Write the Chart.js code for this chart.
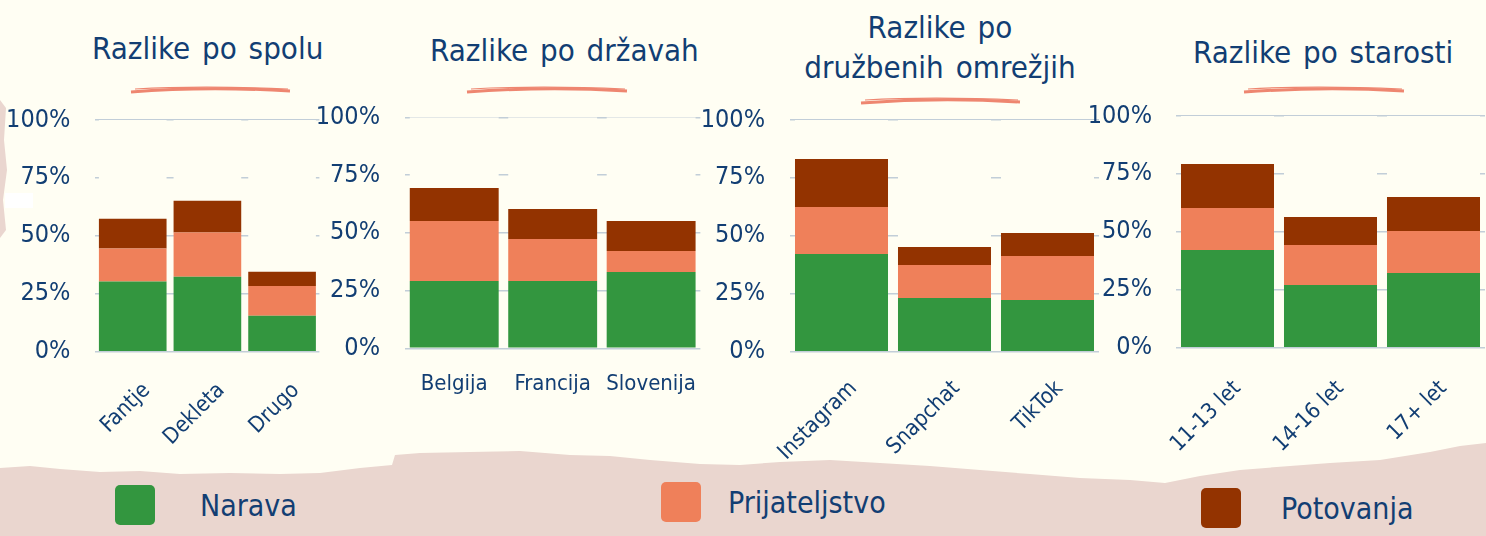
<!DOCTYPE html>
<html>
<head>
<meta charset="utf-8">
<script src="https://cdn.jsdelivr.net/npm/chart.js@4"></script>
<style>
  html, body { margin: 0; padding: 0; }
  body { width: 1486px; height: 536px; background: #FFFEF3; position: relative; overflow: hidden;
         font-family: "Liberation Sans Narrow", "DejaVu Sans Condensed", "Open Sans", sans-serif; color: #123E73; }
  .cv { position: absolute; top: 0; height: 470px; }
  .title { position: absolute; font-size: 31px; color: #123E73; word-spacing: 3px; white-space: nowrap; text-align: center; line-height: 40px; }
  .leg { position: absolute; display: flex; align-items: center; }
  .sw { width: 40px; height: 40px; border-radius: 5px; }
  .lt { font-size: 30px; color: #123E73; }
  svg { position: absolute; left: 0; top: 0; }
</style>
</head>
<body>
<svg width="1486" height="536" style="z-index:0">
  <path d="M0,468 L30,466 L60,469 L100,472 L140,471 L180,474 L230,473 L280,474 L320,473 L360,468 L392,465 L395,455 L420,453 L470,452 L520,451 L570,455 L610,456 L650,460 L700,464 L740,465 L780,462 L830,460 L880,463 L930,466 L980,470 L1030,474 L1080,478 L1130,480 L1165,483 L1200,476 L1240,470 L1290,466 L1330,463 L1380,460 L1430,452 L1460,446 L1486,443 L1486,536 L0,536 Z" fill="#EAD6CF"/>
  <path d="M0,100 L6,108 L4,140 L7,170 L3,200 L6,230 L0,238 Z" fill="#EAD6CF"/>
  <rect x="5" y="193" width="28" height="15" fill="#FFFFFF"/>
  <path d="M131,92 C180,88 240,88 290,91" stroke="#EE8670" stroke-width="3" fill="none"/>
  <path d="M135,89 C190,86 240,87 288,89" stroke="#EE8670" stroke-width="1.2" fill="none"/>
  <path d="M467,92 C520,88 580,88 627,91" stroke="#EE8670" stroke-width="3" fill="none"/>
  <path d="M471,89 C525,86 580,87 625,89" stroke="#EE8670" stroke-width="1.2" fill="none"/>
  <path d="M861,103 C915,99 970,99 1020,102" stroke="#EE8670" stroke-width="3" fill="none"/>
  <path d="M865,100 C920,97 970,98 1018,100" stroke="#EE8670" stroke-width="1.2" fill="none"/>
  <path d="M1244,92 C1300,88 1355,88 1404,91" stroke="#EE8670" stroke-width="3" fill="none"/>
  <path d="M1248,89 C1300,86 1355,87 1402,89" stroke="#EE8670" stroke-width="1.2" fill="none"/>
</svg>

<div class="title" style="left:92px; top:28px; width:226px;">Razlike po spolu</div>
<div class="title" style="left:430px; top:30px; width:265px;">Razlike po državah</div>
<div class="title" style="left:800px; top:7px; width:280px;">Razlike po<br>družbenih omrežjih</div>
<div class="title" style="left:1193px; top:32px; width:260px;">Razlike po starosti</div>

<canvas id="c1" class="cv" style="left:0px; width:330px;" width="330" height="470"></canvas>
<canvas id="c2" class="cv" style="left:300px; width:420px;" width="420" height="470"></canvas>
<canvas id="c3" class="cv" style="left:690px; width:420px;" width="420" height="470"></canvas>
<canvas id="c4" class="cv" style="left:1090px; width:396px;" width="396" height="470"></canvas>

<div class="leg" style="left:115px; top:485px;"><div class="sw" style="background:#33963F"></div><div class="lt" style="margin-left:45px">Narava</div></div>
<div class="leg" style="left:661px; top:482px;"><div class="sw" style="background:#EF805A"></div><div class="lt" style="margin-left:27px">Prijateljstvo</div></div>
<div class="leg" style="left:1201px; top:488px;"><div class="sw" style="background:#933300"></div><div class="lt" style="margin-left:40px">Potovanja</div></div>

<script>
// ---- data ----
const seriesNames = ['Narava', 'Prijateljstvo', 'Potovanja'];
const yTickLabels = ['0%', '25%', '50%', '75%', '100%'];

const genderCats = ['Fantje', 'Dekleta', 'Drugo'];
const genderNarava = [30.3, 32.3, 15.5];
const genderPrijateljstvo = [14.2, 19.1, 12.9];
const genderPotovanja = [12.9, 13.8, 6.1];

const countryCats = ['Belgija', 'Francija', 'Slovenija'];
const countryNarava = [29.1, 29.1, 33.0];
const countryPrijateljstvo = [26.0, 18.2, 9.1];
const countryPotovanja = [14.3, 13.0, 13.0];

const socialCats = ['Instagram', 'Snapchat', 'TikTok'];
const socialNarava = [42.2, 23.2, 22.3];
const socialPrijateljstvo = [20.3, 14.2, 19.0];
const socialPotovanja = [20.7, 7.8, 9.9];

const ageCats = ['11-13 let', '14-16 let', '17+ let'];
const ageNarava = [42.2, 27.1, 32.2];
const agePrijateljstvo = [18.1, 17.2, 18.2];
const agePotovanja = [19.0, 12.1, 14.6];

// ---- styling ----
const COLORS = ['#33963F', '#EF805A', '#933300'];
const BG = '#FFFEF3';
const NAVY = '#123E73';
const FONT = '"Liberation Sans Narrow", "DejaVu Sans Condensed", "Open Sans", sans-serif';

function makeChart(id, cats, a, b, c, cfg) {
  const rest = cats.map((_, i) => Math.max(0, 100 - a[i] - b[i] - c[i]));
  const common = { stack: 's', barPercentage: cfg.barPct, categoryPercentage: 1.0, borderWidth: 0 };
  new Chart(document.getElementById(id), {
    type: 'bar',
    data: {
      labels: cats,
      datasets: [
        Object.assign({ label: seriesNames[0], data: a, backgroundColor: COLORS[0] }, common),
        Object.assign({ label: seriesNames[1], data: b, backgroundColor: COLORS[1] }, common),
        Object.assign({ label: seriesNames[2], data: c, backgroundColor: COLORS[2] }, common),
        Object.assign({ label: '', data: rest, backgroundColor: BG }, common)
      ]
    },
    options: {
      responsive: false,
      animation: false,
      events: [],
      layout: { padding: { top: cfg.top, right: cfg.padRight, left: 0, bottom: 0 } },
      plugins: { legend: { display: false }, tooltip: { enabled: false }, title: { display: false } },
      scales: {
        x: {
          stacked: true,
          grid: { display: false, drawTicks: false },
          border: { display: false },
          afterFit: (s) => { s.height = cfg.xH; },
          ticks: {
            color: NAVY,
            font: { family: FONT, size: 22 },
            minRotation: cfg.rot, maxRotation: cfg.rot,
            autoSkip: false,
            padding: cfg.xPad,
            labelOffset: cfg.labelOffset || 0
          }
        },
        y: {
          stacked: true,
          min: 0, max: 100,
          afterFit: (s) => { s.width = cfg.yW; },
          grid: { color: '#C2CED8', lineWidth: 1.5, drawTicks: false },
          border: { display: false },
          ticks: {
            stepSize: 25,
            color: NAVY,
            padding: cfg.yPad,
            font: { family: FONT, size: 25 },
            callback: (v) => yTickLabels[Math.round(v / 25)]
          }
        }
      }
    }
  });
}

makeChart('c1', genderCats, genderNarava, genderPrijateljstvo, genderPotovanja,
  { barPct: 0.906, top: 120, padRight: 10.6, xH: 118.3, yW: 95.4, yPad: 25, rot: 45, xPad: 26, labelOffset: 14 });
makeChart('c2', countryCats, countryNarava, countryPrijateljstvo, countryPotovanja,
  { barPct: 0.903, top: 117.3, padRight: 6, xH: 121.7, yW: 105, yPad: 25, rot: 0, xPad: 23 });
makeChart('c3', socialCats, socialNarava, socialPrijateljstvo, socialPotovanja,
  { barPct: 0.903, top: 120, padRight: 11, xH: 118.3, yW: 100, yPad: 25, rot: 45, xPad: 24, labelOffset: 12 });
makeChart('c4', ageCats, ageNarava, agePrijateljstvo, agePotovanja,
  { barPct: 0.903, top: 116, padRight: 1, xH: 122.3, yW: 86, yPad: 24, rot: 45, xPad: 28, labelOffset: 10 });
</script>
</body>
</html>
